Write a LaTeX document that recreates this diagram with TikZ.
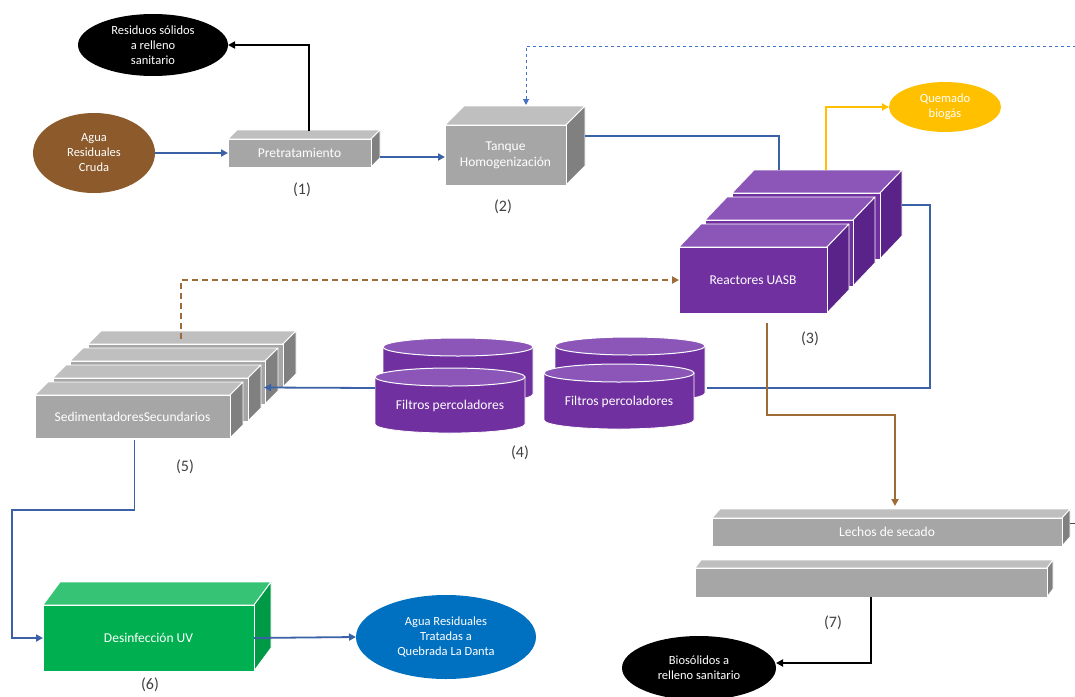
\documentclass[tikz,border=0pt]{standalone}
\usepackage{fontspec}
\setmainfont{Carlito}
\usetikzlibrary{arrows.meta,calc,shapes.geometric}

\definecolor{grayfront}{HTML}{A6A6A6}
\definecolor{graytop}{HTML}{BFBFBF}
\definecolor{grayside}{HTML}{808080}
\definecolor{purplefront}{HTML}{7030A0}
\definecolor{purpletop}{HTML}{8B56B8}
\definecolor{purpleside}{HTML}{5A2389}
\definecolor{greenfront}{HTML}{00B050}
\definecolor{greentop}{HTML}{36C375}
\definecolor{greenside}{HTML}{009A46}
\definecolor{flowblue}{HTML}{3B62A6}
\definecolor{dashblue}{HTML}{4472C4}
\definecolor{flowbrown}{HTML}{9E6A36}
\definecolor{rawbrown}{HTML}{8C5A2B}
\definecolor{gasyellow}{HTML}{FFC000}
\definecolor{outblue}{HTML}{0070C0}
\definecolor{labelgray}{HTML}{404040}

\tikzset{
  gray front/.style={fill=grayfront},
  gray top/.style={fill=graytop},
  gray side/.style={fill=grayside},
  purple front/.style={fill=purplefront},
  purple top/.style={fill=purpletop},
  purple side/.style={fill=purpleside},
  green front/.style={fill=greenfront},
  green top/.style={fill=greentop},
  green side/.style={fill=greenside},
  face/.style={draw=white, line width=0.9pt, line join=round},
  boxtext/.style={text=white, font=\fontsize{13.5}{16}\selectfont, align=center},
  blob/.style={ellipse, inner sep=0pt, outer sep=0pt, text=white, align=center,
    font=\fontsize{12.5}{15}\selectfont},
  lab/.style={text=labelgray, font=\fontsize{16}{18}\selectfont},
  tip/.style={-{Triangle[length=7pt,width=7pt]}},
  bluepipe/.style={draw=flowblue, line width=1.8pt},
  brownpipe/.style={draw=flowbrown, line width=1.8pt},
  blackpipe/.style={draw=black, line width=1.8pt},
  yellowpipe/.style={draw=gasyellow, line width=1.8pt},
}

% cuboid: name, x, y of the front face's top-left corner, width, height,
% depth x, depth y, palette, text
\newcommand{\cuboid}[9]{%
  \fill[#8 top, face] (#2,#3) -- ++(#6,-#7) -- ++(#4,0) -- ++(-#6,#7) -- cycle;
  \fill[#8 side, face] (#2+#4,#3) -- ++(#6,-#7) -- ++(0,#5) -- ++(-#6,#7) -- cycle;
  \node[#8 front, face, boxtext, anchor=north west, minimum width=#4pt,
    minimum height=#5pt, inner sep=0pt, outer sep=0pt] (#1) at (#2,#3) {#9};
}

% filter tank: name, centre x, y of the top rim, body height, text
\newcommand{\filtertank}[5]{%
  \fill[purple front, draw=white, line width=0.8pt]
    (#2-75,#3) -- (#2-75,#3+#4)
    arc[start angle=180, end angle=360, x radius=75pt, y radius=9pt]
    -- (#2+75,#3) -- cycle;
  \fill[purple top, draw=white, line width=1pt] (#2,#3) ellipse [x radius=75pt, y radius=9pt];
  \node[minimum width=150pt, minimum height=#4pt, anchor=north, inner sep=0pt,
    outer sep=0pt] (#1) at (#2,#3) {};
  \node[boxtext] (#1-text) at (#2,#3+29) {#5};
}

\begin{document}
\begin{tikzpicture}[x=1pt, y=-1pt]
\useasboundingbox[fill=white] (0,0) rectangle (1075,696);

% ---- inlet and pretreatment
\node[blob, fill=black, minimum width=150pt, minimum height=62pt] (res) at (153,45)
  {Residuos sólidos\\a relleno\\sanitario};
\node[blob, fill=rawbrown, minimum width=122pt, minimum height=80pt] (cruda) at (94,153)
  {Agua\\Residuales\\Cruda};
\cuboid{pre}{228}{139}{143}{28}{9}{9}{gray}{Pretratamiento}
\node[lab] (l1) at (302,190) {(1)};

\cuboid{tan}{445}{125}{121}{60}{19}{19}{gray}{Tanque\\Homogenización}
\node[lab] (l2) at (503,207) {(2)};

% ---- UASB reactors
\cuboid{rC}{732}{193}{148}{66}{22}{23}{purple}{}
\cuboid{rB}{705}{220}{148}{66}{22}{23}{purple}{}
\cuboid{rA}{679}{247}{148}{66}{22}{23}{purple}{Reactores UASB}
\node[lab] (l3) at (810,339) {(3)};

\node[blob, fill=gasyellow, minimum width=112pt, minimum height=50pt] (gas) at (945,107)
  {Quemado\\biogás};

% ---- secondary settlers
\cuboid{sedA}{88}{344}{195}{43}{13}{13}{gray}{}
\cuboid{sedB}{70}{361}{195}{43}{13}{13}{gray}{}
\cuboid{sedC}{53}{378}{195}{43}{13}{13}{gray}{}
\cuboid{sedD}{35}{395}{195}{43}{13}{13}{gray}{SedimentadoresSecundarios}
\node[lab] (l5) at (185,467) {(5)};

% ---- return line from the reactors to the filters (drawn behind them)
\coordinate (ret) at (930,388);
\draw[bluepipe] ($(rC.north east)+(22,12)$) -| (ret) -- (ret -| 707,0);

% ---- trickling filters
\filtertank{fBL}{458}{347}{47}{}
\filtertank{fBR}{630}{346}{47}{}
\filtertank{fFL}{450}{377}{47}{Filtros percoladores}
\filtertank{fFR}{619}{373}{47}{Filtros percoladores}
\node[lab] (l4) at (520,453) {(4)};

% ---- UV disinfection and outlet
\cuboid{uv}{43}{605}{211}{66}{17}{23}{green}{Desinfección UV}
\node[lab] (l6) at (150,685) {(6)};
\node[blob, fill=outblue, minimum width=180pt, minimum height=84pt] (salida) at (446,637)
  {Agua Residuales\\Tratadas a\\Quebrada La Danta};

% ---- drying beds
\cuboid{lech}{712}{518}{350}{28}{8}{9}{gray}{Lechos de secado}
\cuboid{lechB}{695}{568}{352}{29}{6}{8}{gray}{}
\node[lab] (l7) at (833,623) {(7)};
\node[blob, fill=black, minimum width=154pt, minimum height=64pt] (bio) at (699,668)
  {Biosólidos a\\relleno sanitario};

% ---- connectors
\draw[bluepipe, tip] (cruda.east) -- (pre.west);
\draw[blackpipe, tip] ($(pre.north)+(9.5,-8)$) |- (res.east);
\draw[bluepipe, tip] ($(pre.east)+(9,4)$) -- ($(tan.west)+(0,2)$);
\draw[bluepipe] ($(tan.east)+(19,-19)$) -| ($(rC.north west)+(47,-23)$);
\draw[yellowpipe, tip] ($(rC.north west)+(94,-23)$) |- (gas.west);

\coordinate (topret) at (1076,46);
\draw[draw=dashblue, line width=1pt, dash pattern=on 3pt off 3pt,
  -{Triangle[length=6pt,width=6pt]}] (topret) -| ($(tan.north west)+(81,-20)$);

\coordinate (sedIn) at ($(sedC.east)+(16,-12)$);
\draw[bluepipe, tip] (fFL.west |- ret) -- (sedIn);
\draw[brownpipe, dash pattern=on 6pt off 4pt, tip]
  ($(sedA.north west)+(93,-5)$) |- (rA.west);

\draw[brownpipe, tip] ($(rA.south)+(14,10)$) -- ++(0,92)
  -| ($(lech.north west)+(183,-12)$);

\draw[bluepipe, tip] ($(sedD.south)+(2,2)$) -- ++(0,70)
  -| ($(uv.west)+(-31,0)$) -- (uv.west);
\draw[bluepipe, tip] (uv.east) -- (salida.west);

\coordinate (stubEnd) at (1076,523);
\draw[draw=black!70, line width=0.6pt] ($(lech.east)+(8,-9)$) -- (stubEnd);
\draw[blackpipe, tip] (lechB.south) |- ([yshift=5pt]bio.east);

\end{tikzpicture}
\end{document}
